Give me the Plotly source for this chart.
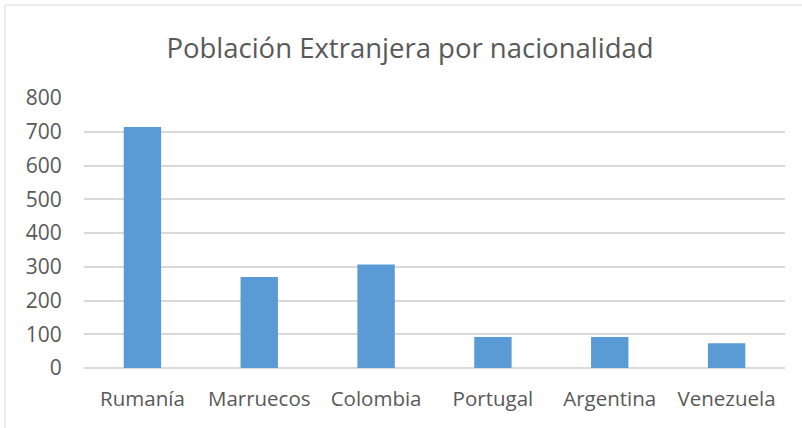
import plotly.graph_objects as go

categories = ["Rumanía", "Marruecos", "Colombia", "Portugal", "Argentina", "Venezuela"]
values = [714, 270, 307, 92, 92, 73]
y_ticks = [0, 100, 200, 300, 400, 500, 600, 700, 800]

W, H = 802, 428
L, R, T, B = 84, 17, 98, 60
pw, ph = W - L - R, H - T - B

fig = go.Figure(go.Bar(x=categories, y=values, marker_color="#5B9BD5",
                       marker_line_width=0))

def px_x(p):
    return (p - L) / pw

def px_y(p):
    return (H - B - p) / ph

fig.update_layout(
    width=W, height=H,
    margin=dict(l=L, r=R, t=T, b=B),
    paper_bgcolor="white", plot_bgcolor="white",
    bargap=0.68,
    showlegend=False,
    font=dict(family="Open Sans, Noto Sans, sans-serif", color="#595959", size=20),
    title=dict(text="Población Extranjera por nacionalidad", x=410 / W, xanchor="center",
               y=1 - 48 / H, yanchor="middle", xref="container", yref="container",
               font=dict(size=27.5, color="#595959")),
    xaxis=dict(showgrid=False, showline=False, ticks="outside", ticklen=12,
               tickcolor="rgba(0,0,0,0)", tickfont=dict(size=20.5)),
    yaxis=dict(range=[0, 800], tickvals=y_ticks, showgrid=True, gridcolor="#D9D9D9",
               gridwidth=1.5, zeroline=True, zerolinecolor="#D9D9D9", zerolinewidth=1.5,
               ticks="outside", ticklen=17, tickcolor="rgba(0,0,0,0)",
               tickfont=dict(size=21)),
    shapes=[
        dict(type="line", xref="paper", yref="paper", x0=px_x(5), x1=px_x(5),
             y0=px_y(5), y1=px_y(440), line=dict(color="#D9D9D9", width=1)),
        dict(type="line", xref="paper", yref="paper", x0=px_x(5), x1=px_x(810),
             y0=px_y(5), y1=px_y(5), line=dict(color="#D9D9D9", width=1)),
    ],
)

fig.write_html("out.html", config={"displayModeBar": False},
               post_script="document.body.style.margin='0';")
